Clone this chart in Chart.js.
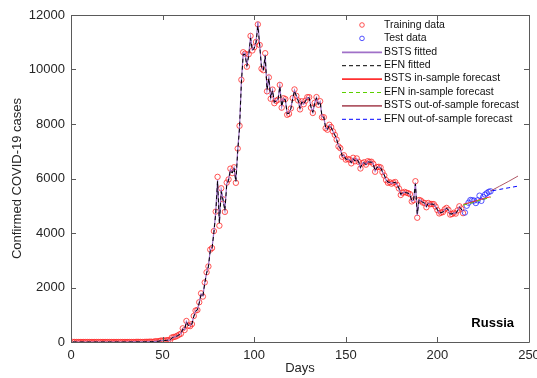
<!DOCTYPE html>
<html>
<head>
<meta charset="utf-8">
<script src="https://cdn.jsdelivr.net/npm/chart.js@4.4.0/dist/chart.umd.min.js"></script>
<style>
  html, body { margin: 0; padding: 0; background: #fff; }
  #wrap { width: 537px; height: 378px; }
</style>
</head>
<body>
<div id="wrap"><canvas id="graph1" width="537" height="378"></canvas></div>
<script>
// daily confirmed cases, day 1 = first training day
const trainStart = 1;
const trainValues = [
    2, 0, 0, 0, 0, 0, 0, 0, 0, 0, 0, 0, 0, 0, 0, 0, 0, 0, 0, 0, 0, 0, 0, 0, 0, 0, 0, 0, 0, 0,
    0, 1, 0, 0, 1, 6, 4, 3, 0, 3, 8, 6, 13, 11, 4,
    30, 21, 33, 52, 54, 53, 61, 71, 57, 163, 182, 196, 228, 270, 302, 501,
    440, 771, 601, 582, 658, 954, 1154, 1175, 1459, 1786, 1667, 2186, 2558, 2774, 3388,
    3448, 4070, 4785, 6060, 4268, 5642, 5236, 4774, 5849, 5966, 6361, 6198, 6411, 5841, 7099,
    7933, 9623, 10633, 10581, 10102, 10559, 11231, 10699, 10817, 11012, 11656, 10899, 10028, 9974, 10598, 9200,
    9709, 8926, 9263, 8764, 8849, 8894, 9434, 8599, 8946, 8915, 8338, 8371, 8572, 8952, 9268,
    9035, 8863, 8536, 8831, 8726, 8855, 8984, 8985, 8595, 8404, 8779, 8987, 8706, 8835, 8246,
    8248, 7843, 7790, 7972, 7889, 7728, 7600, 7425, 7176, 7113, 6800, 6852, 6693, 6719, 6693,
    6556, 6760, 6632, 6736, 6611, 6368, 6562, 6595, 6509, 6635, 6611, 6615, 6537, 6248, 6422, 6428,
    6406, 6234, 6109, 5940, 5842, 5862, 5811, 5848, 5871, 5765, 5635, 5395, 5475, 5509, 5482,
    5462, 5427, 5159, 5204, 5900, 4560, 5212, 5189, 5118, 5102, 4945, 5102, 5057, 5065, 5061, 4969,
    4839, 4718, 4748, 4767, 4870, 4921, 4852, 4676, 4696, 4744, 4711, 4829, 4980, 4897, 4729
];

const testStart = 215;
const testValues = [4750, 5000, 5110, 5210, 5200, 5190, 5100, 5200, 5370, 5180, 5320, 5410, 5460, 5510, 5530];

const bstsFitted = [
    1, 0, 0, 0, 0, 0, 0, 0, 0, 0, 0, 0, 0, 0, 0, 0, 0, 0, 0, 0, 0, 0, 0, 0, 0, 0, 0, 0, 0, 0,
    0, 1, 1, 1, 2, 4, 5, 4, 3, 4, 7, 8, 11, 12, 9,
    20, 25, 32, 48, 55, 55, 60, 68, 62, 150, 180, 198, 226, 268, 305, 480,
    460, 750, 620, 600, 670, 940, 1140, 1190, 1450, 1760, 1690, 2170, 2540, 2790, 3370,
    3460, 4050, 4760, 5950, 4400, 5580, 5250, 4840, 5800, 5970, 6330, 6220, 6400, 5900, 7050,
    7900, 9560, 10600, 10600, 10150, 10550, 11200, 10720, 10800, 11000, 11750, 10900, 10080, 9990, 10550, 9260,
    9700, 8950, 9250, 8790, 8850, 8900, 9400, 8630, 8930, 8900, 8370, 8390, 8570, 8940, 9240,
    9040, 8870, 8560, 8820, 8730, 8850, 8970, 8970, 8610, 8420, 8770, 8970, 8720, 8820, 8270,
    8240, 7860, 7800, 7960, 7880, 7730, 7600, 7430, 7190, 7110, 6820, 6850, 6700, 6710, 6690,
    6570, 6740, 6640, 6720, 6610, 6390, 6560, 6590, 6510, 6620, 6610, 6610, 6530, 6270, 6420, 6420,
    6400, 6240, 6120, 5950, 5860, 5860, 5820, 5850, 5860, 5770, 5640, 5410, 5470, 5500, 5480,
    5460, 5420, 5170, 5210, 5850, 4640, 5220, 5190, 5120, 5100, 4960, 5090, 5060, 5060, 5050, 4970,
    4850, 4730, 4750, 4770, 4860, 4910, 4850, 4690, 4700, 4740, 4720, 4820, 4960, 4890, 4740
];

const efnFitted = [
    1, 0, 0, 0, 0, 0, 0, 0, 0, 0, 0, 0, 0, 0, 0, 0, 0, 0, 0, 0, 0, 0, 0, 0, 0, 0, 0, 0, 0, 0,
    0, 1, 1, 1, 2, 3, 4, 4, 3, 4, 6, 8, 10, 11, 9,
    18, 24, 30, 45, 52, 54, 58, 66, 60, 140, 176, 195, 222, 264, 300, 470,
    450, 740, 610, 590, 660, 930, 1120, 1180, 1430, 1740, 1680, 2150, 2520, 2760, 3340,
    3440, 4020, 4720, 5900, 4350, 5520, 5200, 4820, 5760, 5930, 6300, 6200, 6380, 5880, 7000,
    7850, 9500, 10550, 10550, 10120, 10500, 11150, 10700, 10780, 10980, 11600, 10880, 10050, 9980, 10500, 9250,
    9680, 8950, 9230, 8800, 8840, 8890, 9380, 8640, 8920, 8890, 8380, 8390, 8560, 8920, 9220,
    9020, 8860, 8570, 8810, 8730, 8840, 8960, 8960, 8620, 8430, 8760, 8960, 8720, 8810, 8280,
    8250, 7870, 7800, 7950, 7870, 7730, 7600, 7440, 7200, 7120, 6830, 6850, 6710, 6710, 6690,
    6580, 6730, 6640, 6710, 6610, 6400, 6550, 6580, 6510, 6610, 6600, 6600, 6530, 6280, 6410, 6420,
    6400, 6250, 6130, 5960, 5870, 5860, 5830, 5850, 5860, 5770, 5650, 5420, 5470, 5500, 5480,
    5460, 5420, 5180, 5210, 5800, 4700, 5210, 5190, 5120, 5100, 4970, 5090, 5060, 5060, 5050, 4970,
    4860, 4740, 4750, 4770, 4860, 4900, 4850, 4700, 4700, 4740, 4720, 4820, 4950, 4890, 4750
];

// forecasts: [day, value]
const bstsInDays = [214, 219, 224, 229];
const bstsInValues = [5050, 5140, 5240, 5330];
const efnInDays = [214, 219, 224, 229];
const efnInValues = [5020, 5110, 5220, 5300];
const bstsOutDays = [229, 234, 239, 244];
const bstsOutValues = [5540, 5720, 5900, 6090];
const efnOutDays = [230, 234, 239, 244];
const efnOutValues = [5550, 5600, 5660, 5720];

const xTicks = [0, 50, 100, 150, 200, 250];
const yTicks = [0, 2000, 4000, 6000, 8000, 10000, 12000];

const FONT = 'Liberation Sans, Arial, Helvetica, sans-serif';

function seq(start, values) {
    return values.map((v, i) => ({ x: start + i, y: v }));
}
function pairs(days, values) {
    return days.map((d, i) => ({ x: d, y: values[i] }));
}

function lineSet(label, data, color, dash, order, width) {
    return {
        label: label,
        data: data,
        borderColor: color,
        borderWidth: width || 1,
        borderDash: dash,
        pointRadius: 0,
        fill: false,
        tension: 0,
        order: order
    };
}

function markerSet(label, data, color, order) {
    return {
        label: label,
        data: data,
        showLine: false,
        pointStyle: 'circle',
        pointRadius: 2.7,
        pointBorderWidth: 0.8,
        pointBorderColor: color,
        pointBackgroundColor: 'rgba(0,0,0,0)',
        borderColor: color,
        backgroundColor: 'rgba(0,0,0,0)',
        order: order,
        legendType: 'marker'
    };
}

const datasets = [
    markerSet('Training data', seq(trainStart, trainValues), '#ff2828', 10),
    markerSet('Test data', seq(testStart, testValues), '#2828ff', 9),
    lineSet('BSTS fitted', seq(trainStart, bstsFitted), '#a070c8', [], 5, 1.2),
    lineSet('EFN fitted', seq(trainStart, efnFitted), '#000000', [4, 3], 4),
    lineSet('BSTS in-sample forecast', pairs(bstsInDays, bstsInValues), '#ff3030', [], 3),
    lineSet('EFN in-sample forecast', pairs(efnInDays, efnInValues), '#5cd000', [4, 3], 2),
    lineSet('BSTS out-of-sample forecast', pairs(bstsOutDays, bstsOutValues), '#b05866', [], 1),
    lineSet('EFN out-of-sample forecast', pairs(efnOutDays, efnOutValues), '#0000ff', [4, 3], 0)
];

const PAD = { left: 4, top: 15, right: 8, bottom: 2 };
const PLOT_LEFT = 71, PLOT_BOTTOM = 342;

// box round the axes with inward ticks, like the original figure
const boxPlugin = {
    id: 'box',
    afterDatasetsDraw(chart) {
        const { ctx, chartArea: a, scales } = chart;
        ctx.save();
        ctx.strokeStyle = '#5a5a5a';
        ctx.lineWidth = 1;
        ctx.beginPath();
        ctx.rect(Math.round(a.left) + 0.5, Math.round(a.top) + 0.5,
                 Math.round(a.right - a.left), Math.round(a.bottom - a.top));
        xTicks.forEach(t => {
            const px = Math.round(scales.x.getPixelForValue(t)) + 0.5;
            ctx.moveTo(px, a.bottom); ctx.lineTo(px, a.bottom - 5);
            ctx.moveTo(px, a.top); ctx.lineTo(px, a.top + 5);
        });
        yTicks.forEach(t => {
            const py = Math.round(scales.y.getPixelForValue(t)) + 0.5;
            ctx.moveTo(a.left, py); ctx.lineTo(a.left + 5, py);
            ctx.moveTo(a.right, py); ctx.lineTo(a.right - 5, py);
        });
        ctx.stroke();

        // country tag
        ctx.fillStyle = '#000';
        ctx.font = 'bold 13px ' + FONT;
        ctx.textAlign = 'right';
        ctx.textBaseline = 'middle';
        ctx.fillText('Russia', a.right - 15, a.bottom - 19);
        ctx.restore();
    }
};

// legend inside the axes, top right
const legendPlugin = {
    id: 'insideLegend',
    afterDatasetsDraw(chart) {
        const ctx = chart.ctx;
        const x0 = 342, lineLen = 40, textX = 384, y0 = 25, step = 13.4;
        ctx.save();
        ctx.font = '10.5px ' + FONT;
        ctx.textBaseline = 'middle';
        ctx.textAlign = 'left';
        chart.data.datasets.forEach((ds, i) => {
            const y = y0 + i * step;
            if (ds.legendType === 'marker') {
                ctx.strokeStyle = ds.borderColor;
                ctx.lineWidth = 0.8;
                ctx.beginPath();
                ctx.arc(x0 + lineLen / 2, y, 2.3, 0, Math.PI * 2);
                ctx.stroke();
            } else {
                ctx.strokeStyle = ds.borderColor;
                ctx.lineWidth = ds.borderDash.length ? 1 : 1.8;
                ctx.setLineDash(ds.borderDash);
                ctx.beginPath();
                ctx.moveTo(x0, y + 0.5);
                ctx.lineTo(x0 + lineLen, y + 0.5);
                ctx.stroke();
                ctx.setLineDash([]);
            }
            ctx.fillStyle = '#111';
            ctx.fillText(ds.label, textX, y);
        });
        ctx.restore();
    }
};

new Chart(document.getElementById('graph1'), {
    type: 'line',
    data: { datasets: datasets },
    options: {
        responsive: false,
        animation: false,
        devicePixelRatio: 1,
        layout: { padding: PAD },
        plugins: {
            legend: { display: false },
            tooltip: { enabled: false }
        },
        scales: {
            x: {
                type: 'linear',
                min: 0,
                max: 250,
                afterBuildTicks: s => { s.ticks = xTicks.map(v => ({ value: v })); },
                afterFit: s => {
                    s.height = 378 - PLOT_BOTTOM - PAD.bottom;
                    s.paddingLeft = 0;
                    s.paddingRight = 0;
                },
                grid: { display: false, drawTicks: false },
                border: { display: false },
                ticks: {
                    color: '#262626',
                    font: { family: FONT, size: 13 },
                    padding: 6,
                    maxRotation: 0,
                    callback: v => String(v)
                },
                title: {
                    display: true,
                    text: 'Days',
                    color: '#262626',
                    font: { family: FONT, size: 13 },
                    padding: { top: 0, bottom: 0 }
                }
            },
            y: {
                min: 0,
                max: 12000,
                afterBuildTicks: s => { s.ticks = yTicks.map(v => ({ value: v })); },
                afterFit: s => {
                    s.width = PLOT_LEFT - PAD.left;
                    s.paddingTop = 0;
                    s.paddingBottom = 0;
                },
                grid: { display: false, drawTicks: false },
                border: { display: false },
                ticks: {
                    color: '#262626',
                    font: { family: FONT, size: 13 },
                    padding: 6,
                    callback: v => String(v)
                },
                title: {
                    display: true,
                    text: 'Confirmed COVID-19 cases',
                    color: '#262626',
                    font: { family: FONT, size: 13 },
                    padding: { top: 6, bottom: 0 }
                }
            }
        }
    },
    plugins: [boxPlugin, legendPlugin]
});
</script>
</body>
</html>
